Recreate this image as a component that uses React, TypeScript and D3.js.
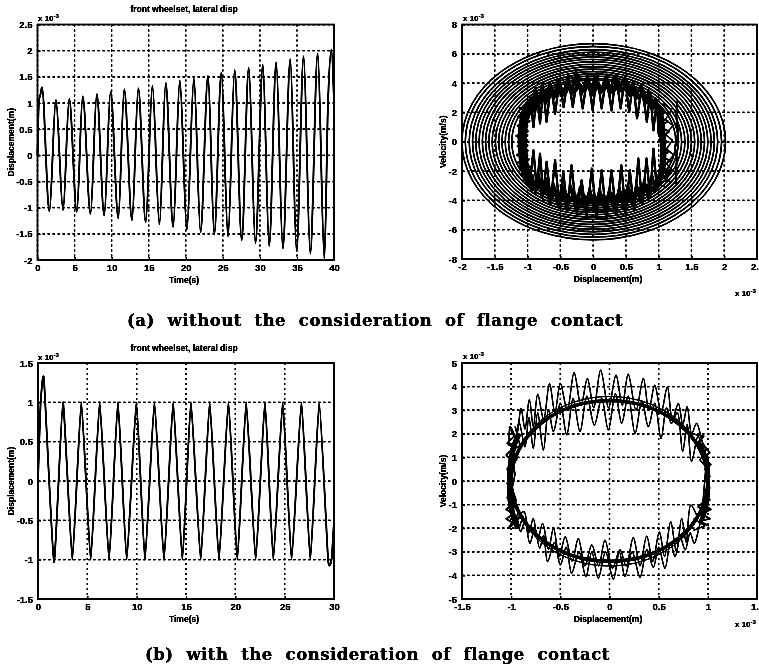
import React, { useEffect, useRef } from "react";
import * as d3 from "d3";

// ---------- tick labels ----------
const ticksA_x = [0, 5, 10, 15, 20, 25, 30, 35, 40];
const ticksA_y = [-2, -1.5, -1, -0.5, 0, 0.5, 1, 1.5, 2, 2.5];
const ticksB_x = [-2, -1.5, -1, -0.5, 0, 0.5, 1, 1.5, 2, 2.5];
const ticksB_y = [-8, -6, -4, -2, 0, 2, 4, 6, 8];
const ticksC_x = [0, 5, 10, 15, 20, 25, 30];
const ticksC_y = [-1.5, -1, -0.5, 0, 0.5, 1, 1.5];
const ticksD_x = [-1.5, -1, -0.5, 0, 0.5, 1, 1.5];
const ticksD_y = [-5, -4, -3, -2, -1, 0, 1, 2, 3, 4, 5];

// ---------- panel (a) left: displacement time history, extrema ----------
const aTime = [0, 0.2, 0.38, 0.6, 1.6, 2.48, 3.45, 4.28, 5.3, 6.1, 7.15, 8.0, 9.0, 9.86, 10.9, 11.7, 12.75, 13.6, 14.6, 15.5, 16.45, 17.3, 18.3, 19.2, 20.15, 21.1, 22.0, 23.0, 23.85, 24.8, 25.7, 26.6, 27.55, 28.5, 29.4, 30.4, 31.25, 32.2, 33.1, 34.1, 34.95, 35.9, 36.8, 37.8, 38.7, 39.2, 39.65, 40];
const aDisp = [0, 1.05, 1.15, 1.3, -1.07, 1.06, -1.05, 1.08, -1.08, 1.13, -1.12, 1.17, -1.15, 1.22, -1.2, 1.26, -1.24, 1.28, -1.28, 1.33, -1.32, 1.38, -1.37, 1.43, -1.42, 1.47, -1.47, 1.52, -1.51, 1.58, -1.55, 1.63, -1.62, 1.68, -1.68, 1.73, -1.73, 1.78, -1.78, 1.84, -1.83, 1.9, -1.88, 1.95, -1.97, 1.05, 2.02, 1.0];

// ---------- panel (a) right: ring extents per cycle ----------
const ringRight = [1.26, 1.3, 1.35, 1.4, 1.45, 1.5, 1.55, 1.6, 1.65, 1.7, 1.75, 1.8, 1.85, 1.9, 1.96, 2.02];
const ringBottom = [-4.2, -4.35, -4.5, -4.66, -4.82, -4.98, -5.14, -5.3, -5.47, -5.64, -5.8, -5.97, -6.14, -6.32, -6.5, -6.7];
const ringLeft = [-1.24, -1.29, -1.34, -1.39, -1.44, -1.49, -1.54, -1.59, -1.64, -1.69, -1.74, -1.79, -1.84, -1.89, -1.95, -2.0];
const ringTop = [4.2, 4.32, 4.48, 4.62, 4.78, 4.95, 5.12, 5.28, 5.45, 5.62, 5.78, 5.95, 6.12, 6.28, 6.5, 6.7];

const bUp1X = [-1.0, -0.96, -0.91, -0.86, -0.81, -0.76, -0.71, -0.645, -0.58, -0.515, -0.45, -0.38, -0.31, -0.235, -0.16, -0.08, -0.007, 0.06, 0.13, 0.205, 0.28, 0.35, 0.42, 0.485, 0.55, 0.61, 0.67, 0.745, 0.82, 0.87, 0.92, 0.97, 1.0];
const bUp1V = [1.8, 3.0, 1.0, 3.4, 1.25, 3.6, 1.35, 3.9, 1.9, 4.2, 2.37, 4.5, 2.37, 4.6, 2.27, 4.6, 2.14, 4.7, 2.27, 4.6, 2.14, 4.6, 2.27, 4.4, 2.03, 4.1, 1.6, 3.8, 1.35, 3.4, 0.78, 2.8, 0.5];
const bUp2X = [-0.93, -0.88, -0.83, -0.78, -0.72, -0.66, -0.6, -0.54, -0.47, -0.4, -0.33, -0.26, -0.18, -0.11, -0.03, 0.03, 0.11, 0.18, 0.25, 0.32, 0.39, 0.46, 0.53, 0.6, 0.65, 0.72, 0.79, 0.85, 0.91, 0.96];
const bUp2V = [2.6, 3.7, 2.4, 3.9, 2.6, 4.0, 2.9, 4.3, 3.1, 4.2, 3.2, 4.8, 3.2, 4.3, 3.2, 4.5, 3.3, 4.3, 3.2, 4.5, 3.3, 4.3, 3.2, 4.0, 2.9, 3.8, 2.5, 3.5, 2.2, 3.0];
const bUp3X = [-0.9, -0.85, -0.8, -0.74, -0.69, -0.63, -0.56, -0.5, -0.43, -0.36, -0.29, -0.21, -0.14, -0.06, 0.01, 0.08, 0.15, 0.22, 0.3, 0.37, 0.44, 0.51, 0.57, 0.63, 0.7, 0.76, 0.83, 0.89];
const bUp3V = [2.0, 3.1, 2.7, 3.4, 2.9, 3.6, 3.1, 3.7, 3.3, 3.9, 3.4, 3.9, 3.5, 4.0, 3.4, 3.9, 3.5, 4.0, 3.4, 3.9, 3.5, 3.8, 3.2, 3.6, 3.0, 3.3, 2.7, 3.0];

const bLow1X = [-0.96, -0.91, -0.86, -0.81, -0.76, -0.71, -0.645, -0.58, -0.515, -0.455, -0.39, -0.33, -0.25, -0.175, -0.1, -0.02, 0.055, 0.13, 0.205, 0.28, 0.355, 0.43, 0.495, 0.56, 0.625, 0.69, 0.75, 0.815, 0.87, 0.92, 0.97];
const bLow1V = [-2.6, -0.58, -3.2, -0.81, -3.6, -1.37, -4.0, -1.26, -4.4, -2.05, -4.7, -1.6, -4.9, -2.62, -5.2, -1.83, -5.2, -1.94, -5.2, -1.94, -5.0, -1.6, -4.9, -1.94, -4.7, -1.15, -4.3, -1.15, -3.8, -0.47, -3.1];
const bLow2X = [-0.93, -0.88, -0.83, -0.78, -0.72, -0.66, -0.6, -0.54, -0.47, -0.41, -0.34, -0.27, -0.2, -0.13, -0.05, 0.02, 0.1, 0.17, 0.25, 0.32, 0.4, 0.46, 0.53, 0.6, 0.66, 0.72, 0.78, 0.84, 0.9, 0.96];
const bLow2V = [-2.3, -3.5, -2.2, -3.8, -2.5, -4.2, -2.9, -4.3, -3.0, -4.5, -3.0, -4.6, -3.1, -4.5, -3.2, -4.7, -3.2, -4.6, -3.2, -4.6, -3.1, -4.5, -3.0, -4.3, -2.9, -4.1, -2.6, -3.8, -2.3, -3.4];
const bLow3X = [-0.9, -0.85, -0.8, -0.74, -0.69, -0.63, -0.56, -0.5, -0.43, -0.36, -0.29, -0.21, -0.14, -0.06, 0.01, 0.08, 0.15, 0.22, 0.3, 0.37, 0.44, 0.51, 0.57, 0.63, 0.7, 0.76, 0.83, 0.89];
const bLow3V = [-2.7, -3.1, -2.9, -3.5, -3.1, -3.7, -3.4, -4.0, -3.5, -4.0, -3.6, -4.2, -3.7, -4.1, -3.7, -4.2, -3.7, -4.1, -3.6, -4.1, -3.5, -4.0, -3.4, -3.8, -3.2, -3.5, -3.0, -3.2];

const bBandLX = [-0.88, -0.98, -1.06, -1.08, -1.07, -1.04, -0.95, -0.88];
const bBandLV = [2.9, 2.4, 1.3, 0.4, -0.8, -1.9, -2.8, -3.2];
const bBandRX = [0.9, 1.0, 1.04, 1.06, 1.07, 1.05, 0.98, 0.9];
const bBandRV = [2.8, 2.2, 1.3, 0.2, -0.9, -1.9, -2.9, -3.4];
const bSideL1X = [-1.02, -0.93, -1.12, -0.95, -1.14, -0.97, -1.15, -1.0, -1.17, -1.0, -1.15, -1.0, -1.16, -0.98, -1.14, -0.97, -1.12, -0.94, -1.1, -0.92, -1.06, -0.9];
const bSideL1V = [2.7, 2.2, 2.3, 1.9, 1.7, 1.4, 1.1, 0.7, 0.4, 0.0, -0.3, -0.6, -0.9, -1.2, -1.4, -1.7, -1.8, -2.0, -2.2, -2.3, -2.6, -2.9];
const bSideR1X = [0.96, 1.1, 1.0, 1.14, 1.02, 1.16, 1.04, 1.13, 1.05, 1.15, 1.03, 1.18, 1.02, 1.17, 1.0, 1.14, 0.98, 1.12];
const bSideR1V = [2.4, 2.0, 1.7, 1.4, 1.0, 0.7, 0.3, 0.0, -0.3, -0.7, -1.0, -1.3, -1.7, -2.0, -2.3, -2.6, -2.9, -3.1];
const bSideR2X = [1.28, 1.27, 1.3, 1.25, 1.28, 1.26, 1.27];
const bSideR2V = [2.8, 1.7, 0.7, -0.4, -1.2, -2.0, -2.9];
const bSideR3X = [1.06, 1.2, 1.1, 1.22, 1.1, 1.21, 1.12, 1.23, 1.12, 1.2, 1.1, 1.2];
const bSideR3V = [2.6, 2.2, 1.5, 1.1, 0.5, 0.1, -0.5, -0.9, -1.5, -1.9, -2.5, -2.8];

// ---------- panel (b) left ----------
const cTime = [0, 0.25, 0.6, 1.62, 2.53, 3.48, 4.39, 5.34, 6.25, 7.2, 8.1, 8.99, 9.97, 10.84, 11.8, 12.77, 13.7, 14.63, 15.5, 16.49, 17.4, 18.34, 19.3, 20.2, 21.1, 22.06, 23.0, 23.85, 24.8, 25.7, 26.7, 27.6, 28.5, 29.4, 29.75, 30];
const cDisp = [0, 0.95, 1.3, -1.03, 1.0, -1.0, 1.0, -1.0, 1.0, -1.0, 1.0, -1.0, 1.0, -1.0, 1.0, -1.0, 1.0, -1.0, 1.0, -1.0, 1.0, -1.0, 1.0, -1.0, 1.0, -1.0, 1.0, -1.0, 1.0, -1.0, 1.0, -1.0, 1.0, -1.0, -1.0, -0.5];

// ---------- panel (b) right ----------
const dBoldX = [1.0, 0, -1.0, 0];
const dBoldV = [0, -3.4, 0, 3.4];
const dThinV = [0, -3.6, 0, 3.58];

const dTop1X = [-1.02, -1.01, -0.95, -0.9, -0.86, -0.815, -0.775, -0.73, -0.67, -0.61, -0.555, -0.5, -0.43, -0.36, -0.29, -0.225, -0.16, -0.09, -0.01, 0.066, 0.13, 0.19, 0.27, 0.344, 0.4, 0.46, 0.525, 0.588, 0.64, 0.7, 0.745, 0.79, 0.835, 0.886, 0.95, 1.0];
const dTop1V = [1.5, 2.3, 1.9, 3.08, 2.2, 3.46, 2.3, 3.68, 2.6, 4.14, 2.9, 4.14, 3.0, 4.59, 3.2, 4.35, 3.1, 4.7, 3.1, 4.49, 3.2, 4.53, 3.0, 4.35, 3.0, 4.06, 2.9, 3.99, 2.6, 3.29, 2.4, 3.15, 2.0, 2.44, 1.6, 1.3];
const dTop2X = [-0.96, -0.92, -0.86, -0.82, -0.775, -0.73, -0.673, -0.62, -0.57, -0.5, -0.435, -0.37, -0.3, -0.23, -0.154, -0.08, -0.012, 0.06, 0.124, 0.19, 0.26, 0.33, 0.395, 0.46, 0.524, 0.58, 0.63, 0.69, 0.744, 0.79, 0.835, 0.9, 0.95];
const dTop2V = [1.38, 2.5, 1.45, 2.7, 1.38, 2.9, 1.31, 3.0, 2.09, 3.3, 1.95, 3.5, 2.09, 3.6, 2.37, 3.5, 2.16, 3.7, 2.44, 3.6, 2.02, 3.4, 2.3, 3.3, 1.8, 3.1, 2.44, 2.9, 1.24, 2.4, 0.82, 1.9, 1.0];
const dBot1X = [-1.02, -0.95, -0.904, -0.86, -0.81, -0.76, -0.71, -0.67, -0.63, -0.56, -0.5, -0.44, -0.385, -0.31, -0.24, -0.18, -0.114, -0.04, 0.039, 0.1, 0.157, 0.23, 0.31, 0.38, 0.446, 0.5, 0.564, 0.62, 0.666, 0.72, 0.77, 0.82, 0.862, 0.93, 1.0];
const dBot1V = [-2.0, -1.5, -2.15, -1.7, -2.64, -2.0, -2.85, -2.3, -3.42, -2.6, -3.56, -2.8, -3.91, -3.0, -4.05, -3.0, -4.12, -3.0, -4.17, -3.0, -4.05, -3.0, -4.08, -2.9, -3.66, -2.8, -3.7, -2.6, -3.21, -2.4, -2.92, -2.2, -2.64, -1.7, -1.2];
const dBot2X = [-0.95, -0.87, -0.82, -0.775, -0.73, -0.68, -0.62, -0.57, -0.51, -0.45, -0.38, -0.317, -0.25, -0.18, -0.11, -0.046, 0.03, 0.107, 0.17, 0.242, 0.31, 0.378, 0.44, 0.507, 0.56, 0.622, 0.68, 0.734, 0.78, 0.826, 0.9];
const dBot2V = [-1.7, -1.3, -2.2, -1.58, -2.5, -1.79, -2.9, -2.0, -3.2, -2.36, -3.4, -2.43, -3.6, -2.71, -3.6, -2.5, -3.7, -2.92, -3.6, -2.39, -3.6, -2.33, -3.4, -2.15, -3.2, -1.72, -3.0, -1.58, -2.6, -1.02, -1.6];
const dBandLX = [-0.92, -0.97, -1.0, -1.015, -1.015, -1.0, -0.97, -0.93];
const dBandLV = [2.0, 1.5, 0.9, 0.3, -0.5, -1.1, -1.6, -2.0];
const dBandRX = [0.9, 0.95, 0.99, 1.0, 1.0, 0.99, 0.96, 0.92];
const dBandRV = [1.7, 1.3, 0.8, 0.2, -0.4, -0.9, -1.4, -1.8];
const dSideL1X = [-1.02, -0.97, -1.04, -0.98, -1.05, -0.99, -1.04, -1.0, -1.04, -1.0, -1.04, -0.99, -1.05, -0.98, -1.05, -0.97, -1.03, -0.95];
const dSideL1V = [2.3, 1.9, 1.6, 1.4, 1.1, 0.8, 0.5, 0.2, -0.1, -0.4, -0.7, -1.0, -1.2, -1.4, -1.6, -1.8, -2.0, -1.6];
const dSideL2X = [-0.93, -0.96, -0.91, -0.99, -0.93, -0.98, -0.96, -0.99, -0.95, -0.97, -0.92, -0.97, -0.88, -0.92];
const dSideL2V = [1.9, 2.3, 1.5, 1.3, 1.0, 0.7, 0.3, -0.3, -0.8, -1.1, -1.3, -1.7, -1.5, -2.0];
const dSideR1X = [0.94, 1.02, 0.96, 1.03, 0.97, 1.02, 0.98, 1.02, 0.97, 1.02, 0.96, 1.03, 0.94, 1.02, 0.92, 1.01];
const dSideR1V = [1.6, 1.2, 1.0, 0.7, 0.5, 0.2, 0.0, -0.3, -0.5, -0.8, -1.0, -1.2, -1.4, -1.6, -1.7, -1.9];
const dSideR2X = [0.84, 0.96, 0.88, 0.98, 0.92, 0.98, 0.95, 0.9, 0.99, 0.86, 0.97, 0.85];
const dSideR2V = [2.0, 1.9, 1.5, 1.3, 0.9, 0.6, -0.9, -1.1, -1.3, -1.6, -1.9, -2.1];

// ---------- text ----------
const titleText = "front wheelset, lateral disp";
const xLabelTime = "Time(s)";
const xLabelDisp = "Displacement(m)";
const yLabelDisp = "Displacement(m)";
const yLabelVel = "Velocity(m/s)";
const captionA = "(a) without the consideration of flange contact";
const captionB = "(b) with the consideration of flange contact";

const SANS = "'Liberation Sans', Arial, sans-serif";
const SERIF = "'DejaVu Serif', serif";

type Series = { x: number[]; y: number[]; width: number; curve: d3.CurveFactory };

function Exponent({ x, y }: { x: number; y: number }) {
  return (
    <text x={x} y={y} fontFamily={SANS} fontWeight={700} fontSize={8} fill="#000">
      x 10
      <tspan dy={-3} fontSize={6}>-3</tspan>
    </text>
  );
}

function Panel(props: {
  left: number; right: number; top: number; bottom: number;
  xDomain: [number, number]; yDomain: [number, number];
  xTicks: number[]; yTicks: number[];
  xLabel: string; yLabel: string; labelX: number; yLabelX: number;
  series: Series[];
}) {
  const { left, right, top, bottom, xDomain, yDomain, xTicks, yTicks, series } = props;
  const xs = d3.scaleLinear().domain(xDomain).range([left, right]);
  const ys = d3.scaleLinear().domain(yDomain).range([bottom, top]);
  const gx = useRef<SVGGElement>(null);
  const gy = useRef<SVGGElement>(null);

  useEffect(() => {
    const fix = (g: d3.Selection<SVGGElement, unknown, null, undefined>) => {
      g.select(".domain").remove();
      g.selectAll("line").attr("stroke", "#000").attr("stroke-width", 1);
      g.selectAll("text")
        .attr("font-family", SANS)
        .attr("font-weight", 700)
        .attr("font-size", 9.5)
        .attr("fill", "#000");
    };
    d3.select(gx.current!)
      .call(d3.axisBottom(xs).tickValues(xTicks).tickFormat((d) => String(d)).tickSizeInner(-3).tickSizeOuter(0).tickPadding(4))
      .call(fix);
    d3.select(gy.current!)
      .call(d3.axisLeft(ys).tickValues(yTicks).tickFormat((d) => String(d)).tickSizeInner(-3).tickSizeOuter(0).tickPadding(5))
      .call(fix);
  }, []);

  const cy = (top + bottom) / 2;
  return (
    <g>
      {xTicks.map((t) => (
        <line key={"gx" + t} x1={xs(t)} x2={xs(t)} y1={top} y2={bottom} stroke="#000" strokeWidth={1.25} strokeDasharray="2 3" />
      ))}
      {yTicks.map((t) => (
        <line key={"gy" + t} x1={left} x2={right} y1={ys(t)} y2={ys(t)} stroke="#000" strokeWidth={1.25} strokeDasharray="2.5 2.5" />
      ))}
      {series.map((s, i) => {
        const pts = s.x.map((v, k) => [v, s.y[k]] as [number, number]);
        const line = d3.line<[number, number]>().x((d) => xs(d[0])).y((d) => ys(d[1])).curve(s.curve);
        return <path key={i} d={line(pts) || ""} fill="none" stroke="#000" strokeWidth={s.width} strokeLinejoin="round" />;
      })}
      <rect x={left} y={top} width={right - left} height={bottom - top} fill="none" stroke="#000" strokeWidth={1.4} />
      <g ref={gx} transform={`translate(0,${bottom})`} />
      <g ref={gy} transform={`translate(${left},0)`} />
      <text x={props.labelX} y={bottom + 23} textAnchor="middle" fontFamily={SANS} fontWeight={700} fontSize={8.5} fill="#000">{props.xLabel}</text>
      <text transform={`translate(${props.yLabelX},${cy}) rotate(-90)`} textAnchor="middle" fontFamily={SANS} fontWeight={700} fontSize={8.5} fill="#000">{props.yLabel}</text>
    </g>
  );
}

const ringCurve = d3.curveCardinalClosed.tension(-0.657);

const ringSeries: Series[] = ringRight.map((r, i) => ({
  x: [r, 0, ringLeft[i], 0],
  y: [0, ringBottom[i], 0, ringTop[i]],
  width: 1.35,
  curve: ringCurve,
}));

const seriesA: Series[] = [{ x: aTime, y: aDisp, width: 1.55, curve: d3.curveMonotoneX }];
const jag = (x: number[], y: number[], width = 1.3): Series => ({ x, y, width, curve: d3.curveLinear });
const smooth = (x: number[], y: number[], width = 1.2): Series => ({ x, y, width, curve: d3.curveCatmullRom });
const seriesB: Series[] = [
  ...ringSeries,
  jag(bUp1X, bUp1V, 2), jag(bUp2X, bUp2V, 2.2), jag(bUp3X, bUp3V, 3.8),
  jag(bLow1X, bLow1V, 2), jag(bLow2X, bLow2V, 2.2), jag(bLow3X, bLow3V, 3.8),
  smooth(bBandLX, bBandLV, 9), smooth(bBandRX, bBandRV, 6),
  jag(bSideL1X, bSideL1V, 2),
  jag(bSideR1X, bSideR1V, 1.6), jag(bSideR2X, bSideR2V, 1.8), jag(bSideR3X, bSideR3V, 1.2),
];
const seriesC: Series[] = [{ x: cTime, y: cDisp, width: 1.55, curve: d3.curveCardinal.tension(0.55) }];
const seriesD: Series[] = [
  { x: dBoldX, y: dThinV, width: 1, curve: ringCurve },
  smooth(dTop1X, dTop1V), smooth(dTop2X, dTop2V),
  smooth(dBot1X, dBot1V), smooth(dBot2X, dBot2V),
  { x: dBoldX, y: dBoldV, width: 3.2, curve: ringCurve },
  smooth(dBandLX, dBandLV, 5), smooth(dBandRX, dBandRV, 4),
  jag(dSideL1X, dSideL1V, 1.5), jag(dSideL2X, dSideL2V, 1.2),
  jag(dSideR1X, dSideR1V, 1.5), jag(dSideR2X, dSideR2V, 1.2),
];

const captionStyle = { wordSpacing: "6.5px", letterSpacing: "0.5px" };

export default function App() {
  return (
    <svg width={759} height={669} viewBox="0 0 759 669" style={{ position: "fixed", left: 0, top: 0, background: "#fff", display: "block" }}>
      <defs>
        <filter id="scan" x="0" y="0" width="759" height="669" filterUnits="userSpaceOnUse" colorInterpolationFilters="sRGB">
          <feGaussianBlur stdDeviation="0.5" />
          <feComponentTransfer>
            <feFuncR type="linear" slope="2.1" intercept="-1.05" />
            <feFuncG type="linear" slope="2.1" intercept="-1.05" />
            <feFuncB type="linear" slope="2.1" intercept="-1.05" />
          </feComponentTransfer>
        </filter>
      </defs>
      <g filter="url(#scan)">
        <rect x={0} y={0} width={759} height={669} fill="#fff" />
        <text x={184} y={12} textAnchor="middle" fontFamily={SANS} fontWeight={700} fontSize={8.5} fill="#000">{titleText}</text>
        <Exponent x={38} y={21} />
        <Panel left={37.5} right={334} top={24.5} bottom={260} xDomain={[0, 40]} yDomain={[-2, 2.5]} xTicks={ticksA_x} yTicks={ticksA_y}
          xLabel={xLabelTime} yLabel={yLabelDisp} labelX={184} yLabelX={14} series={seriesA} />

        <Exponent x={463} y={21} />
        <Exponent x={735} y={296} />
        <Panel left={462} right={757} top={24.5} bottom={259} xDomain={[-2, 2.5]} yDomain={[-8, 8]} xTicks={ticksB_x} yTicks={ticksB_y}
          xLabel={xLabelDisp} yLabel={yLabelVel} labelX={608} yLabelX={446} series={seriesB} />

        <text x={184} y={351} textAnchor="middle" fontFamily={SANS} fontWeight={700} fontSize={8.5} fill="#000">{titleText}</text>
        <Exponent x={38} y={360} />
        <Panel left={38} right={334} top={363} bottom={599} xDomain={[0, 30]} yDomain={[-1.5, 1.5]} xTicks={ticksC_x} yTicks={ticksC_y}
          xLabel={xLabelTime} yLabel={yLabelDisp} labelX={184} yLabelX={14} series={seriesC} />

        <Exponent x={463} y={359} />
        <Exponent x={735} y={627} />
        <Panel left={462} right={757} top={363} bottom={599} xDomain={[-1.5, 1.5]} yDomain={[-5, 5]} xTicks={ticksD_x} yTicks={ticksD_y}
          xLabel={xLabelDisp} yLabel={yLabelVel} labelX={608} yLabelX={446} series={seriesD} />

        <text x={127} y={326} fontFamily={SERIF} fontWeight={700} fontSize={16.5} fill="#000" style={captionStyle}>{captionA}</text>
        <text x={145} y={660} fontFamily={SERIF} fontWeight={700} fontSize={16.5} fill="#000" style={captionStyle}>{captionB}</text>
      </g>
    </svg>
  );
}
